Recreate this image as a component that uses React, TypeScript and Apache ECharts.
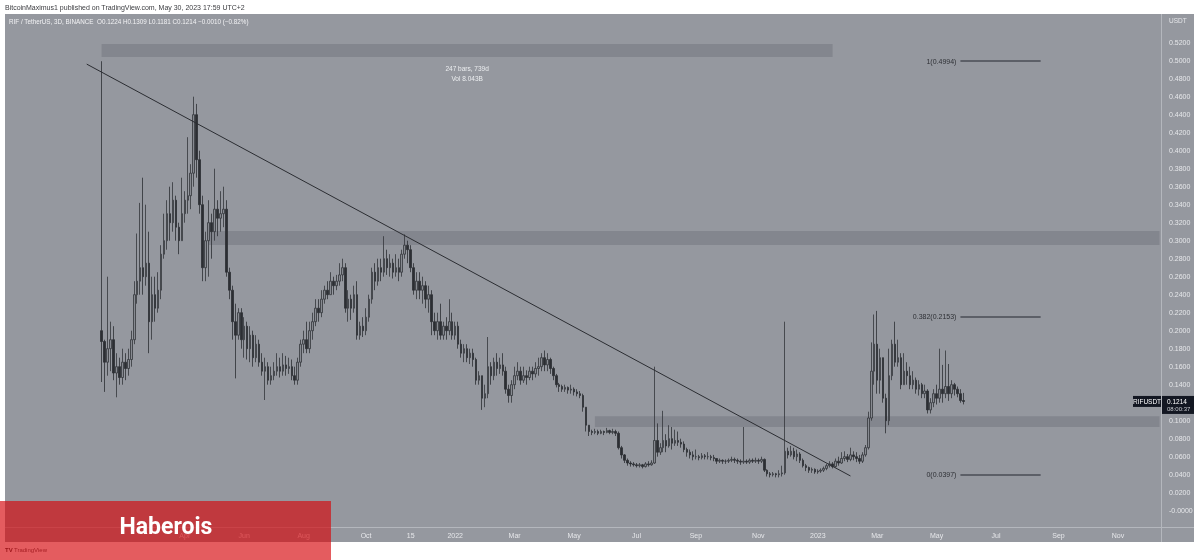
import React, { useEffect, useRef } from "react";
import * as echarts from "echarts";

// ---------- data ----------
const FIRST_BAR_DATE = "2021-01-08";
const BAR_DAYS = 3;
const PAD_BEFORE = 32; // empty 3D slots left of the first bar
const TOTAL_SLOTS = 389; // slots visible on the time axis

const firstOpen = 0.2;
const closes = [
  0.188,0.165,0.180,0.190,0.153,0.160,0.148,0.165,0.158,0.168,
  0.190,0.240,0.255,0.270,0.260,0.275,0.210,0.240,0.225,0.245,
  0.285,0.300,0.330,0.320,0.345,0.315,0.300,0.330,0.345,0.350,
  0.375,0.440,0.390,0.340,0.270,0.300,0.320,0.310,0.335,0.325,
  0.330,0.335,0.265,0.245,0.210,0.195,0.220,0.190,0.205,0.180,
  0.195,0.170,0.185,0.165,0.155,0.160,0.145,0.150,0.155,0.160,
  0.155,0.162,0.158,0.160,0.150,0.145,0.165,0.185,0.190,0.180,
  0.200,0.210,0.225,0.220,0.235,0.245,0.240,0.255,0.250,0.255,
  0.262,0.270,0.225,0.235,0.225,0.240,0.195,0.205,0.200,0.215,
  0.235,0.265,0.255,0.270,0.265,0.280,0.270,0.275,0.265,0.270,
  0.265,0.285,0.295,0.290,0.270,0.245,0.255,0.245,0.250,0.235,
  0.240,0.210,0.200,0.210,0.195,0.205,0.200,0.210,0.195,0.205,
  0.185,0.175,0.180,0.170,0.175,0.168,0.145,0.150,0.125,0.130,
  0.160,0.150,0.165,0.158,0.162,0.155,0.135,0.128,0.140,0.150,
  0.155,0.145,0.150,0.148,0.155,0.152,0.158,0.160,0.170,0.162,
  0.168,0.158,0.150,0.140,0.138,0.135,0.137,0.134,0.135,0.132,
  0.130,0.128,0.115,0.095,0.088,0.087,0.088,0.086,0.088,0.087,
  0.089,0.087,0.088,0.086,0.070,0.062,0.056,0.053,0.052,0.051,
  0.050,0.051,0.049,0.052,0.051,0.053,0.078,0.065,0.070,0.078,
  0.072,0.080,0.075,0.078,0.076,0.074,0.068,0.065,0.062,0.060,
  0.060,0.059,0.061,0.060,0.060,0.059,0.058,0.055,0.056,0.055,
  0.055,0.056,0.057,0.056,0.055,0.054,0.055,0.054,0.056,
  0.055,0.056,0.055,0.057,0.045,0.041,0.040,0.041,0.040,0.041,
  0.042,0.066,0.062,0.066,0.060,0.063,0.056,0.050,0.048,0.045,
  0.046,0.043,0.044,0.045,0.047,0.050,0.052,0.049,0.055,0.053,
  0.058,0.060,0.057,0.062,0.060,0.058,0.055,0.062,0.070,0.103,
  0.155,0.185,0.145,0.170,0.125,0.100,0.150,0.185,0.165,0.170,
  0.140,0.155,0.150,0.140,0.145,0.135,0.140,0.130,0.133,0.112,
  0.120,0.130,0.125,0.135,0.130,0.138,0.130,0.140,0.135,0.130,
  0.1224,0.1214,
];
const highs = [
  0.4994,0.190,0.260,0.210,0.205,0.175,0.170,0.180,0.175,0.180,
  0.200,0.255,0.308,0.342,0.370,0.340,0.310,0.260,0.260,0.265,
  0.295,0.330,0.345,0.360,0.365,0.350,0.320,0.370,0.355,0.415,
  0.385,0.460,0.452,0.400,0.350,0.310,0.345,0.330,0.380,0.345,
  0.355,0.360,0.345,0.270,0.250,0.230,0.225,0.225,0.215,0.210,
  0.205,0.200,0.195,0.190,0.175,0.170,0.165,0.160,0.165,0.175,
  0.170,0.175,0.172,0.170,0.168,0.160,0.170,0.190,0.200,0.210,
  0.210,0.220,0.235,0.235,0.245,0.250,0.255,0.265,0.260,0.262,
  0.275,0.280,0.275,0.245,0.240,0.250,0.255,0.210,0.215,0.225,
  0.240,0.270,0.275,0.280,0.280,0.305,0.290,0.285,0.280,0.285,
  0.280,0.290,0.307,0.300,0.295,0.275,0.265,0.265,0.260,0.255,
  0.250,0.245,0.220,0.220,0.230,0.210,0.215,0.235,0.220,0.210,
  0.210,0.190,0.185,0.185,0.180,0.180,0.170,0.155,0.150,0.140,
  0.193,0.165,0.170,0.175,0.170,0.175,0.160,0.140,0.145,0.160,
  0.165,0.160,0.160,0.156,0.160,0.160,0.165,0.170,0.175,0.178,
  0.175,0.170,0.160,0.152,0.142,0.140,0.140,0.138,0.140,0.137,
  0.135,0.133,0.130,0.115,0.095,0.090,0.091,0.090,0.090,0.089,
  0.092,0.090,0.091,0.090,0.088,0.072,0.063,0.058,0.055,0.054,
  0.053,0.053,0.052,0.054,0.055,0.056,0.160,0.097,0.075,0.111,
  0.085,0.095,0.093,0.090,0.088,0.080,0.077,0.070,0.068,0.066,
  0.068,0.062,0.064,0.063,0.065,0.062,0.062,0.058,0.058,0.057,
  0.057,0.058,0.060,0.059,0.058,0.057,0.093,0.057,0.058,
  0.058,0.059,0.058,0.060,0.058,0.046,0.043,0.043,0.042,0.045,
  0.050,0.210,0.070,0.072,0.070,0.068,0.065,0.058,0.052,0.049,
  0.048,0.047,0.046,0.047,0.049,0.052,0.055,0.054,0.058,0.060,
  0.065,0.066,0.063,0.070,0.066,0.065,0.062,0.065,0.073,0.110,
  0.187,0.218,0.222,0.180,0.170,0.130,0.180,0.190,0.210,0.190,
  0.175,0.175,0.165,0.160,0.155,0.148,0.145,0.142,0.140,0.135,
  0.125,0.135,0.140,0.180,0.162,0.178,0.163,0.145,0.142,0.138,
  0.135,0.1309,
];
const lows = [
  0.143,0.132,0.150,0.155,0.145,0.126,0.140,0.140,0.145,0.150,
  0.160,0.185,0.230,0.240,0.240,0.250,0.175,0.190,0.210,0.220,
  0.235,0.280,0.290,0.300,0.310,0.300,0.285,0.300,0.320,0.330,
  0.335,0.360,0.370,0.330,0.255,0.255,0.260,0.280,0.300,0.305,
  0.310,0.315,0.260,0.235,0.190,0.147,0.190,0.180,0.170,0.168,
  0.165,0.160,0.165,0.160,0.150,0.123,0.140,0.140,0.145,0.150,
  0.148,0.150,0.150,0.152,0.145,0.140,0.140,0.160,0.175,0.175,
  0.175,0.190,0.205,0.210,0.215,0.230,0.235,0.240,0.240,0.245,
  0.250,0.255,0.220,0.210,0.212,0.220,0.190,0.190,0.193,0.195,
  0.210,0.230,0.245,0.250,0.255,0.260,0.262,0.260,0.258,0.260,
  0.255,0.260,0.280,0.275,0.265,0.240,0.235,0.235,0.230,0.225,
  0.220,0.195,0.195,0.190,0.190,0.190,0.190,0.195,0.190,0.190,
  0.180,0.170,0.165,0.165,0.163,0.160,0.140,0.140,0.112,0.115,
  0.125,0.140,0.145,0.150,0.152,0.150,0.130,0.120,0.120,0.135,
  0.145,0.140,0.142,0.140,0.145,0.145,0.148,0.150,0.155,0.155,
  0.155,0.152,0.145,0.137,0.132,0.132,0.132,0.130,0.130,0.128,
  0.127,0.125,0.110,0.088,0.083,0.084,0.085,0.084,0.085,0.084,
  0.086,0.085,0.085,0.083,0.068,0.058,0.053,0.050,0.049,0.049,
  0.048,0.048,0.047,0.048,0.049,0.050,0.052,0.060,0.062,0.065,
  0.065,0.070,0.068,0.072,0.072,0.070,0.065,0.060,0.058,0.056,
  0.057,0.056,0.057,0.057,0.057,0.056,0.055,0.052,0.053,0.052,
  0.052,0.053,0.054,0.053,0.052,0.051,0.052,0.052,0.052,
  0.053,0.053,0.052,0.053,0.043,0.038,0.037,0.038,0.037,0.037,
  0.038,0.040,0.058,0.060,0.057,0.055,0.053,0.048,0.044,0.042,
  0.042,0.041,0.041,0.042,0.043,0.045,0.048,0.047,0.048,0.050,
  0.052,0.055,0.054,0.055,0.056,0.054,0.052,0.053,0.060,0.068,
  0.100,0.140,0.130,0.130,0.120,0.086,0.095,0.145,0.160,0.160,
  0.135,0.140,0.140,0.135,0.135,0.130,0.128,0.125,0.125,0.108,
  0.108,0.115,0.118,0.120,0.120,0.125,0.122,0.125,0.128,0.126,
  0.120,0.1181,
];

const timeTicks: [string, string][] = [
  ["2021-04-01", "Apr"], ["2021-06-01", "Jun"],
  ["2021-08-01", "Aug"], ["2021-10-01", "Oct"], ["2021-11-15", "15"],
  ["2022-01-01", "2022"], ["2022-03-01", "Mar"], ["2022-05-01", "May"],
  ["2022-07-01", "Jul"], ["2022-09-01", "Sep"], ["2022-11-01", "Nov"],
  ["2023-01-01", "2023"], ["2023-03-01", "Mar"], ["2023-05-01", "May"],
  ["2023-07-01", "Jul"], ["2023-09-01", "Sep"], ["2023-11-01", "Nov"],
];

// zones: bar indices (null = to right edge) and price limits
const zones = [
  { fromBar: 0, toBar: 246, low: 0.504, high: 0.5186, label: "247 bars, 739d\nVol 8.043B" },
  { fromBar: 36, toBar: null, low: 0.2952, high: 0.3108, label: "" },
  { fromBar: 166, toBar: null, low: 0.093, high: 0.105, label: "" },
];
const trendLine = [
  { bar: -5, value: 0.4962 },
  { bar: 252, value: 0.0386 },
];
const fibLevels = [
  { ratio: "1", value: 0.4994 },
  { ratio: "0.382", value: 0.2153 },
  { ratio: "0", value: 0.0397 },
];
const fibFromBar = 289;
const fibToBar = 316;

const Y_MIN = -0.02;
const Y_MAX = 0.56;
const Y_STEP = 0.02;

// ---------- derived ----------
const DAY = 86400000;
const startMs = Date.parse(FIRST_BAR_DATE) - PAD_BEFORE * BAR_DAYS * DAY;
const slotDates: string[] = [];
for (let k = 0; k < TOTAL_SLOTS; k++) {
  slotDates.push(new Date(startMs + k * BAR_DAYS * DAY).toISOString().slice(0, 10));
}
const tickMap = new Map<number, string>();
timeTicks.forEach(([d, t]) => {
  tickMap.set(Math.round((Date.parse(d) - startMs) / (BAR_DAYS * DAY)), t);
});
const slotOf = (bar: number) => bar + PAD_BEFORE;
const opens = closes.map((c, i) => (i === 0 ? firstOpen : closes[i - 1]));
const candles = closes.map((c, i) => [slotOf(i), opens[i], c, lows[i], highs[i]]);
const last = closes.length - 1;
const lastClose = closes[last];
const chg = closes[last] - opens[last];
const sign = chg < 0 ? "\u2212" : "+";
const legendText =
  `RIF / TetherUS, 3D, BINANCE  O${opens[last].toFixed(4)} H${highs[last].toFixed(4)} L${lows[last].toFixed(4)} C${closes[last].toFixed(4)} ` +
  `${sign}${Math.abs(chg).toFixed(4)} (${sign}${Math.abs((chg / opens[last]) * 100).toFixed(2)}%)`;

const FONT = "Liberation Sans";
const LIGHT = "#e6e7ea";

export default function App() {
  const ref = useRef<HTMLDivElement>(null);
  useEffect(() => {
    const chart = echarts.init(ref.current!, null, { renderer: "svg" });
    const option: any = {
      animation: false,
      textStyle: { fontFamily: FONT },
      grid: { left: 5, right: 39, top: 6.7, height: 522, containLabel: false },
      xAxis: {
        type: "category",
        data: slotDates,
        boundaryGap: true,
        axisLine: { show: false },
        axisTick: { show: false },
        splitLine: { show: false },
        axisLabel: {
          interval: (i: number) => tickMap.has(i),
          formatter: (_v: string, i: number) => tickMap.get(i) ?? "",
          color: LIGHT,
          fontSize: 7,
          margin: 3,
          hideOverlap: false,
        },
      },
      yAxis: {
        type: "value",
        position: "right",
        min: Y_MIN,
        max: Y_MAX,
        interval: Y_STEP,
        axisLine: { show: false },
        axisTick: { show: false },
        splitLine: { show: false },
        axisLabel: {
          margin: 8,
          color: LIGHT,
          fontSize: 7,
          formatter: (v: number) => {
            if (v > 0.525 || v < -0.01) return "";
            if (Math.abs(v - lastClose) < 0.01) return ""; // hidden under the last-price tag
            if (Math.abs(v) < 1e-9) return "-0.0000";
            return v.toFixed(4);
          },
        },
      },
      graphic: {
        elements: [
          { id: "pane", type: "rect", z: -10, silent: true, shape: { x: 5, y: 14, width: 1189, height: 528 }, style: { fill: "#95989f" } },
          { id: "vsep", type: "line", z: -5, silent: true, shape: { x1: 1161.5, y1: 14, x2: 1161.5, y2: 542 }, style: { stroke: "#b4b7bd", lineWidth: 1 } },
          { id: "hsep", type: "line", z: -5, silent: true, shape: { x1: 5, y1: 527.5, x2: 1194, y2: 527.5 }, style: { stroke: "#b4b7bd", lineWidth: 1 } },
          { id: "hdr", type: "text", silent: true, x: 5, y: 7, style: { text: "BitcoinMaximus1 published on TradingView.com, May 30, 2023 17:59 UTC+2", fill: "#3a3b3f", fontSize: 7, fontFamily: FONT, verticalAlign: "middle", textVerticalAlign: "middle" } },
          { id: "legend", type: "text", silent: true, x: 9, y: 21, style: { text: legendText, fill: "#f2f2f4", fontSize: 6.3, fontFamily: FONT, verticalAlign: "middle", textVerticalAlign: "middle" } },
          { id: "usdt", type: "text", silent: true, x: 1169, y: 20, style: { text: "USDT", fill: LIGHT, fontSize: 6.5, fontFamily: FONT, verticalAlign: "middle", textVerticalAlign: "middle" } },
          { id: "tvlogo", type: "text", silent: true, x: 5, y: 550, style: { text: "TV", fill: "#2d2e31", fontSize: 6, fontWeight: "bold", fontFamily: FONT, verticalAlign: "middle", textVerticalAlign: "middle" } },
          { id: "tvname", type: "text", silent: true, x: 14, y: 550, style: { text: "TradingView", fill: "#4a4b50", fontSize: 6, fontFamily: FONT, verticalAlign: "middle", textVerticalAlign: "middle" } },
          { id: "brand", type: "rect", z: 100, silent: true, shape: { x: 0, y: 501, width: 331, height: 59 }, style: { fill: "rgba(214,8,12,0.66)" } },
          { id: "brandText", type: "text", z: 101, silent: true, x: 166, y: 526, style: { text: "Haberois", fill: "#ffffff", fontSize: 23, fontWeight: "bold", fontFamily: "Roboto", align: "center", textAlign: "center", verticalAlign: "middle", textVerticalAlign: "middle" } },
        ],
      },
      series: [
        {
          type: "candlestick",
          data: candles,
          encode: { x: 0, y: [1, 2, 3, 4] },
          barWidth: 2,
          itemStyle: {
            color: "#878a91",
            color0: "#2c2e33",
            borderColor: "#34363b",
            borderColor0: "#2c2e33",
            borderWidth: 0.8,
          },
          markArea: {
            silent: true,
            itemStyle: { color: "#83868e" },
            data: zones.map((z) => [
              {
                coord: [slotOf(z.fromBar), z.high],
                label: z.label
                  ? { show: true, position: "bottom", distance: 6, formatter: z.label, color: "#eceef0", fontSize: 6.5, lineHeight: 10, align: "center" }
                  : { show: false },
              },
              { coord: [z.toBar === null ? TOTAL_SLOTS - 1 : slotOf(z.toBar), z.low] },
            ]),
          },
          markLine: {
            silent: true,
            symbol: ["none", "none"],
            animation: false,
            data: [
              [
                { coord: [slotOf(trendLine[0].bar), trendLine[0].value], lineStyle: { color: "#2b2d32", width: 1, type: "solid" }, label: { show: false } },
                { coord: [slotOf(trendLine[1].bar), trendLine[1].value] },
              ],
              ...fibLevels.map((f) => [
                {
                  coord: [slotOf(fibFromBar), f.value],
                  lineStyle: { color: "#4a4d55", width: 1.5, type: "solid" },
                  label: { show: true, position: "start", distance: 4, formatter: `${f.ratio}(${f.value.toFixed(4)})`, color: "#2e3035", fontSize: 7 },
                },
                { coord: [slotOf(fibToBar), f.value] },
              ]),
            ],
          },
        },
      ],
    };
    chart.setOption(option);
    const py = chart.convertToPixel({ yAxisIndex: 0 }, lastClose) as number;
    chart.setOption({
      graphic: {
        elements: [
          { id: "tagSymBox", type: "rect", z: 50, silent: true, shape: { x: 1133, y: py - 5.5, width: 28, height: 11 }, style: { fill: "#131722" } },
          { id: "tagSym", type: "text", z: 51, silent: true, x: 1147, y: py, style: { text: "RIFUSDT", fill: "#ffffff", fontSize: 6.5, fontFamily: FONT, align: "center", textAlign: "center", verticalAlign: "middle", textVerticalAlign: "middle" } },
          { id: "tagPxBox", type: "rect", z: 50, silent: true, shape: { x: 1162, y: py - 5.5, width: 32, height: 18 }, style: { fill: "#131722" } },
          { id: "tagPx", type: "text", z: 51, silent: true, x: 1167, y: py, style: { text: lastClose.toFixed(4), fill: "#ffffff", fontSize: 6.5, fontFamily: FONT, verticalAlign: "middle", textVerticalAlign: "middle" } },
          { id: "tagTime", type: "text", z: 51, silent: true, x: 1167, y: py + 7.5, style: { text: "08:00:37", fill: "#c9cbd0", fontSize: 6, fontFamily: FONT, verticalAlign: "middle", textVerticalAlign: "middle" } },
        ],
      },
    });
    return () => chart.dispose();
  }, []);
  return <div ref={ref} style={{ position: "fixed", left: 0, top: 0, width: 1200, height: 560 }} />;
}
